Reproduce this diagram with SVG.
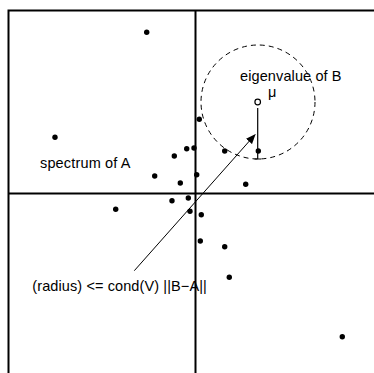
<svg xmlns="http://www.w3.org/2000/svg" width="374" height="373" viewBox="0 0 374 373">
<defs>
<style>
.ax{stroke:#000;stroke-width:2;fill:none}
.dot{fill:#000}
.t{font-family:"Liberation Sans",Arial,sans-serif;font-size:14.5px;fill:#000}
</style>
<marker id="ah" markerWidth="10" markerHeight="8" refX="9" refY="4" orient="auto" markerUnits="userSpaceOnUse">
<path d="M0,0 L10,4 L0,8 Z" fill="#000"/>
</marker>
</defs>
<rect x="0" y="0" width="374" height="373" fill="#fff"/>
<g id="frame">
<path class="ax" stroke-width="1.5" d="M8.5,373 V10.5 H374"/>
<line class="ax" x1="195.5" y1="10" x2="195.5" y2="373"/>
<line class="ax" x1="8" y1="193.5" x2="374" y2="193.5"/>
</g>
<g id="spectrum">
<circle class="dot" cx="146.7" cy="32.3" r="2.7"/>
<circle class="dot" cx="55" cy="137.3" r="2.7"/>
<circle class="dot" cx="199.3" cy="119.3" r="2.7"/>
<circle class="dot" cx="186.7" cy="148.7" r="2.7"/>
<circle class="dot" cx="194" cy="148" r="2.7"/>
<circle class="dot" cx="174.3" cy="156" r="2.7"/>
<circle class="dot" cx="224.7" cy="151" r="2.7"/>
<circle class="dot" cx="258.3" cy="151" r="2.7"/>
<circle class="dot" cx="154.7" cy="176" r="2.7"/>
<circle class="dot" cx="196.7" cy="174.7" r="2.7"/>
<circle class="dot" cx="180.3" cy="183" r="2.7"/>
<circle class="dot" cx="245.7" cy="184.3" r="2.7"/>
<circle class="dot" cx="172" cy="200.7" r="2.7"/>
<circle class="dot" cx="188.3" cy="198" r="2.7"/>
<circle class="dot" cx="115.7" cy="209.3" r="2.7"/>
<circle class="dot" cx="190" cy="211.3" r="2.7"/>
<circle class="dot" cx="201.3" cy="214.7" r="2.7"/>
<circle class="dot" cx="200.3" cy="241" r="2.7"/>
<circle class="dot" cx="224.7" cy="246.7" r="2.7"/>
<circle class="dot" cx="229.3" cy="277.3" r="2.7"/>
<circle class="dot" cx="342.3" cy="336.7" r="2.7"/>
<text class="t" x="40" y="167.5" textLength="90.5">spectrum of A</text>
</g>
<g id="eigenB">
<circle cx="258" cy="102" r="57" fill="none" stroke="#000" stroke-width="1" stroke-dasharray="5,4"/>
<circle cx="257.7" cy="102" r="2.8" fill="#fff" stroke="#000" stroke-width="1.2"/>
<text class="t" x="240" y="81" textLength="101.5">eigenvalue of B</text>
<text class="t" x="268" y="96.5" font-size="17">μ</text>
</g>
<g id="connectors">
<line x1="257.7" y1="108" x2="257.7" y2="159" stroke="#000" stroke-width="1.2"/>
<line x1="254.5" y1="159" x2="261" y2="159" stroke="#000" stroke-width="1"/>
<line x1="134.3" y1="270.7" x2="255" y2="134.7" stroke="#000" stroke-width="1" marker-end="url(#ah)"/>
</g>
<g id="radius">
<text class="t" x="32.3" y="291" textLength="174.5">(radius) &lt;= cond(V) ||B−A||</text>
</g>
</svg>
